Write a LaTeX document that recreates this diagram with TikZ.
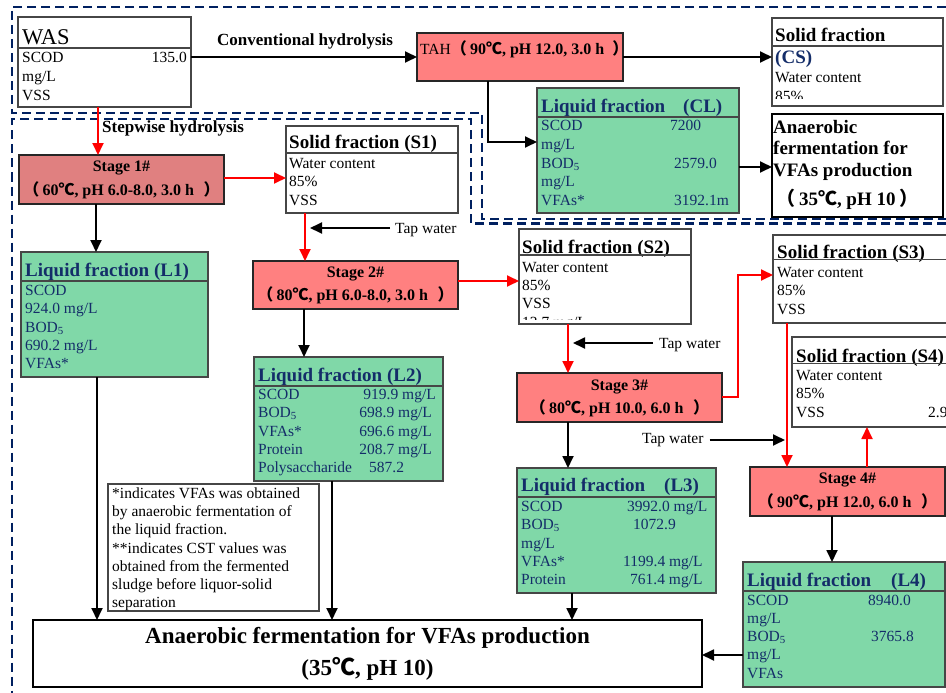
\documentclass[tikz,border=0pt]{standalone}
\usepackage{fontspec}
\setmainfont{Liberation Serif}
\newfontfamily\cjk{Noto Sans CJK SC}
\usetikzlibrary{arrows.meta}
\definecolor{navy}{RGB}{0,32,96}
\definecolor{tblue}{RGB}{20,45,105}
\definecolor{lgreen}{RGB}{128,216,168}
\definecolor{lred}{RGB}{255,128,128}
\definecolor{dred}{RGB}{224,128,128}
\definecolor{bgray}{RGB}{70,70,70}
\definecolor{rred}{RGB}{255,0,0}
\newcommand\degC{{\cjk ℃}}
\newcommand\Lpar{{\cjk （}\hspace{0.2em}}
\newcommand\Rpar{{\cjk ）}}
\newcounter{tn}
\newcommand\TX[4][tx]{\stepcounter{tn}\node[#1] (t\arabic{tn}) at (#2,#3) {#4};}
\newcommand\BX[6]{\node[#6,minimum width={(#4-#2)*1pt},minimum height={(#5-#3)*1pt}] (#1) at (#2,#3) {};}
\tikzset{
 bx/.style={rectangle,inner sep=0pt,outer sep=0pt,anchor=north west,draw=bgray,line width=1.3pt},
 wbox/.style={bx,fill=white},
 gbox/.style={bx,fill=lgreen},
 rbox/.style={bx,fill=lred,draw=black!85,line width=1.6pt},
 r1box/.style={rbox,fill=dred},
 sepl/.style={draw=bgray,line width=1.1pt},
 tx/.style={inner sep=0pt,anchor=base west,font=\fontsize{15.5}{18}\selectfont},
 txr/.style={tx,anchor=base east},
 gt/.style={tx,text=tblue},
 tt/.style={inner sep=0pt,anchor=base west,font=\fontsize{19}{22}\selectfont\bfseries},
 gtt/.style={tt,text=tblue},
 st/.style={inner sep=0pt,anchor=base,font=\fontsize{16}{19}\selectfont\bfseries},
 bt/.style={inner sep=0pt,anchor=base,font=\fontsize{23}{26}\selectfont\bfseries},
 lab/.style={inner sep=0pt,anchor=base west,font=\fontsize{17}{20}\selectfont\bfseries},
 arr/.style={draw=black,line width=1.8pt,-{Triangle[length=12pt,width=11pt]}},
 rarr/.style={arr,draw=rred},
 dframe/.style={draw=navy,line width=2.5pt,dash pattern=on 9pt off 5pt},
}
\begin{document}
\begin{tikzpicture}[x=1pt,y=-1pt]
\useasboundingbox (0,0) rectangle (946,693);
\clip (0,0) rectangle (946,693);
\fill[white] (0,0) rectangle (946,693);

% dashed frames
\draw[dframe] (960,7) -- (12,7) -- (12,113) -- (482,113) -- (482,219) -- (960,219);
\draw[dframe] (960,223.5) -- (471,223.5) -- (471,119) -- (12,119) -- (12,710);

% ---------- WAS ----------
\BX{WAS}{18}{17}{191}{107}{wbox}
\TX[tx,font=\fontsize{22.5}{24}\selectfont]{22}{45}{WAS}
\draw[sepl] (18,48) -- (191,48);
\TX{22}{63}{SCOD}
\TX[txr]{187}{63}{135.0}
\TX{22}{81.5}{mg/L}
\TX{22}{100}{VSS}

\TX[lab]{217}{45.5}{Conventional hydrolysis}
\TX[lab]{102}{132.5}{Stepwise hydrolysis}

% ---------- TAH ----------
\BX{TAH}{417}{33}{623}{81}{rbox}
\TX{420}{54.5}{TAH\textbf{\fontsize{16}{18}\selectfont\Lpar 90\degC, pH 12.0, 3.0 h\hspace{0.5em}\Rpar}}

% ---------- CS ----------
\BX{CS}{772}{18}{943}{106}{wbox}
\TX[tt]{775}{41.5}{Solid fraction}
\draw[sepl] (772,46) -- (943,46);
\TX[gtt]{775}{64}{(CS)}
\TX{775}{83}{Water content}
\begin{scope}
\clip (772,88) rectangle (943,98.5);
\TX{775}{102}{85\%}
\end{scope}

% ---------- CL ----------
\BX{CL}{537}{88}{739}{213}{gbox}
\TX[gtt]{541}{113}{Liquid fraction}
\TX[gtt]{683}{113}{(CL)}
\draw[sepl] (537,117) -- (739,117);
\TX[gt]{541}{131}{SCOD} \TX[gt]{670}{131}{7200}
\TX[gt]{541}{149.5}{mg/L}
\TX[gt]{541}{168}{BOD\textsubscript{5}} \TX[gt]{674}{168}{2579.0}
\TX[gt]{541}{186.5}{mg/L}
\TX[gt]{541}{205}{VFAs*} \TX[gt]{674}{205}{3192.1m}

% ---------- AF (top) ----------
\BX{AF}{772}{114}{943}{217}{wbox,draw=black}
\TX[tt]{773}{133}{Anaerobic}
\TX[tt]{773}{154.5}{fermentation for}
\TX[tt]{773}{176.5}{VFAs production}
\TX[tt]{776}{205}{\Lpar 35\degC, pH 10\hspace{0.2em}\Rpar}

% ---------- Stage 1 ----------
\BX{St1}{19}{155}{224}{204}{r1box}
\TX[st]{121.5}{171.5}{Stage 1\#}
\TX[st]{121.5}{195}{\Lpar 60\degC, pH 6.0-8.0, 3.0 h\hspace{0.6em}\Rpar}

% ---------- S1 ----------
\BX{S1}{286}{126}{458}{213}{wbox}
\TX[tt]{289}{149}{Solid fraction (S1)}
\draw[sepl] (286,153) -- (458,153);
\TX{289}{168}{Water content}
\TX{289}{186.5}{85\%}
\TX{289}{205}{VSS}

% ---------- L1 ----------
\BX{L1}{21}{252}{208}{377}{gbox}
\TX[gtt]{25}{276}{Liquid fraction (L1)}
\draw[sepl] (21,281) -- (208,281);
\TX[gt]{25}{295.5}{SCOD}
\TX[gt]{25}{313.8}{924.0 mg/L}
\TX[gt]{25}{332.1}{BOD\textsubscript{5}}
\TX[gt]{25}{350.4}{690.2 mg/L}
\TX[gt]{25}{368.7}{VFAs*}

% ---------- Stage 2 ----------
\BX{St2}{253}{261}{458}{309}{rbox}
\TX[st]{355.5}{277.5}{Stage 2\#}
\TX[st]{355.5}{300.5}{\Lpar 80\degC, pH 6.0-8.0, 3.0 h\hspace{0.6em}\Rpar}

% ---------- L2 ----------
\BX{L2}{254}{357}{443}{481}{gbox}
\TX[gtt]{258}{381}{Liquid fraction (L2)}
\draw[sepl] (254,386) -- (443,386);
\TX[gt]{258}{399.5}{SCOD} \TX[gt,anchor=base east]{436}{399.5}{919.9 mg/L}
\TX[gt]{258}{417.8}{BOD\textsubscript{5}} \TX[gt,anchor=base east]{432}{417.8}{698.9 mg/L}
\TX[gt]{258}{436.1}{VFAs*} \TX[gt,anchor=base east]{432}{436.1}{696.6 mg/L}
\TX[gt]{258}{454.4}{Protein} \TX[gt,anchor=base east]{432}{454.4}{208.7 mg/L}
\TX[gt]{258}{472.7}{Polysaccharide} \TX[gt]{369}{472.7}{587.2}

% ---------- S2 ----------
\BX{S2}{519}{229}{691}{324}{wbox}
\TX[tt]{522}{253}{Solid fraction (S2)}
\draw[sepl] (519,255) -- (691,255);
\TX{522}{272}{Water content}
\TX{522}{290.5}{85\%}
\TX{522}{308.5}{VSS}
\begin{scope}
\clip (519,312) rectangle (691,319);
\TX{522}{327}{13.7 mg/L}
\end{scope}

% ---------- Stage 3 ----------
\BX{St3}{517}{373}{722}{422}{rbox}
\TX[st]{619.5}{390.5}{Stage 3\#}
\TX[st]{619.5}{413.5}{\Lpar 80\degC, pH 10.0, 6.0 h\hspace{0.6em}\Rpar}

% ---------- L3 ----------
\BX{L3}{517}{468}{716}{593}{gbox}
\TX[gtt]{521}{491}{Liquid fraction}
\TX[gtt]{664}{491}{(L3)}
\draw[sepl] (517,497) -- (716,497);
\TX[gt]{521}{511.5}{SCOD} \TX[gt]{627}{511.5}{3992.0 mg/L}
\TX[gt]{521}{529.8}{BOD\textsubscript{5}} \TX[gt]{633}{529.8}{1072.9}
\TX[gt]{521}{548.1}{mg/L}
\TX[gt]{521}{566.4}{VFAs*} \TX[gt]{623}{566.4}{1199.4 mg/L}
\TX[gt]{521}{584.7}{Protein} \TX[gt]{630}{584.7}{761.4 mg/L}

% ---------- S3 ----------
\BX{S3}{773}{235}{960}{323}{wbox}
\TX[tt]{777}{258}{Solid fraction (S3)}
\draw[sepl] (773,259.5) -- (960,259.5);
\TX{777}{277}{Water content}
\TX{777}{295.5}{85\%}
\TX{777}{314}{VSS}

% ---------- S4 ----------
\BX{S4}{792}{337}{960}{427}{wbox}
\TX[tt]{796}{362}{Solid fraction (S4)}
\draw[sepl] (792,363.5) -- (960,363.5);
\TX{796}{380}{Water content}
\TX{796}{398.5}{85\%}
\TX{796}{417}{VSS} \TX{928}{417}{2.9}

% ---------- Stage 4 ----------
\BX{St4}{750}{467}{945}{516}{rbox}
\TX[st]{847.5}{483.5}{Stage 4\#}
\TX[st]{847.5}{507.5}{\Lpar 90\degC, pH 12.0, 6.0 h\hspace{0.6em}\Rpar}

% ---------- L4 ----------
\BX{L4}{743}{562}{945}{687}{gbox}
\TX[gtt]{747}{586}{Liquid fraction}
\TX[gtt]{891}{586}{(L4)}
\draw[sepl] (743,591) -- (945,591);
\TX[gt]{747}{605}{SCOD} \TX[gt]{868}{605}{8940.0}
\TX[gt]{747}{623.3}{mg/L}
\TX[gt]{747}{641.6}{BOD\textsubscript{5}} \TX[gt]{871}{641.6}{3765.8}
\TX[gt]{747}{659.9}{mg/L}
\TX[gt]{747}{678.2}{VFAs}

% ---------- Note ----------
\BX{Note}{108}{484}{319}{611}{wbox}
\TX{112}{498.5}{*indicates VFAs was obtained}
\TX{112}{516.7}{by anaerobic fermentation of}
\TX{112}{534.9}{the liquid fraction.}
\TX{112}{553.1}{**indicates CST values was}
\TX{112}{571.3}{obtained from the fermented}
\TX{112}{589.5}{sludge before liquor-solid}
\TX{112}{607.5}{separation}

% ---------- Bottom ----------
\BX{Bot}{33}{620}{702}{687}{wbox,draw=black,line width=1.6pt}
\TX[bt]{367.5}{643}{Anaerobic fermentation for VFAs production}
\TX[bt]{367.5}{675}{(35\degC, pH 10)}

% ---------- tap water ----------
\node[tx] (tw1) at (395,233) {Tap water};
\coordinate (tp1) at (310,228);
\node[tx] (tw2) at (659,348) {Tap water};
\coordinate (tp2) at (573,343);
\node[tx] (tw3) at (642,443) {Tap water};
\coordinate (tp3) at (785,440);

% ---------- connectors ----------
\draw[arr] (WAS.east |- 0,57) -- (TAH.west |- 0,57);
\draw[arr] (TAH.east |- 0,57) -- (CS.west |- 0,57);
\draw[arr] (488,0 |- TAH.south) -- (488,142) -- (CL.west |- 0,142);
\draw[arr] (CL.east |- 0,167) -- (AF.west |- 0,167);
\draw[rarr] (98,0 |- WAS.south) -- (98,0 |- St1.north);
\draw[rarr] (St1.east |- 0,178) -- (S1.west |- 0,178);
\draw[arr] (96,0 |- St1.south) -- (96,0 |- L1.north);
\draw[rarr] (305,0 |- S1.south) -- (305,0 |- St2.north);
\draw[rarr] (St2.east |- 0,281) -- (S2.west |- 0,281);
\draw[arr] (304,0 |- St2.south) -- (304,0 |- L2.north);
\draw[rarr] (568,0 |- S2.south) -- (568,0 |- St3.north);
\draw[rarr] (St3.east |- 0,397) -- (738,397) -- (738,275) -- (S3.west |- 0,275);
\draw[arr] (568,0 |- St3.south) -- (568,0 |- L3.north);
\draw[rarr] (787,0 |- S3.south) -- (787,0 |- St4.north);
\draw[rarr] (867,0 |- St4.north) -- (867,0 |- S4.south);
\draw[arr] (832,0 |- St4.south) -- (832,0 |- L4.north);
\draw[arr] (97,0 |- L1.south) -- (97,0 |- Bot.north);
\draw[arr] (332,0 |- L2.south) -- (332,0 |- Bot.north);
\draw[arr] (572,0 |- L3.south) -- (572,0 |- Bot.north);
\draw[arr] (L4.west |- 0,655) -- (Bot.east |- 0,655);
\draw[arr] (tw1.west |- tp1) ++(-5,0) -- (tp1);
\draw[arr] (tw2.west |- tp2) ++(-6,0) -- (tp2);
\draw[arr] (tw3.east |- tp3) ++(6,0) -- (tp3);
\end{tikzpicture}
\end{document}
